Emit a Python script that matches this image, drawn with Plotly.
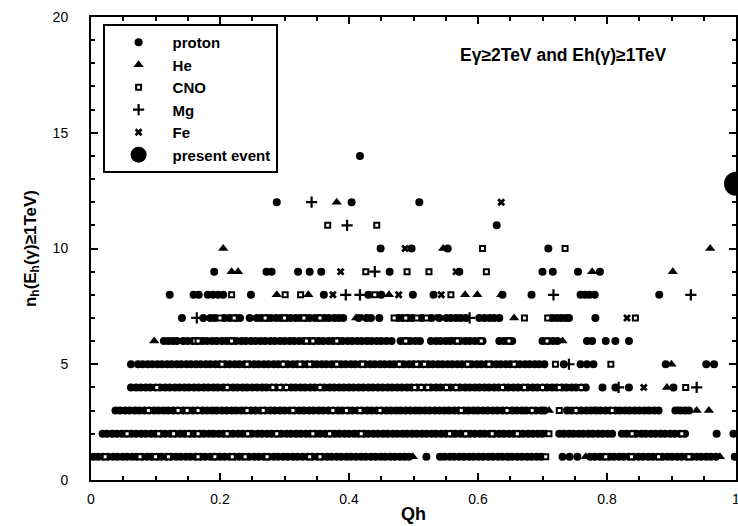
import plotly.graph_objects as go

# ---- data: Qh values per multiplicity row (n_h) for each primary ----
P1 = [0.004, 0.011, 0.019, 0.026, 0.034, 0.041, 0.049, 0.056, 0.064, 0.071, 0.079, 0.087, 0.094, 0.102, 0.109,
      0.117, 0.124, 0.132, 0.139, 0.147, 0.154, 0.162, 0.170, 0.177, 0.185, 0.192, 0.200, 0.207, 0.215, 0.222,
      0.230, 0.237, 0.245, 0.253, 0.260, 0.268, 0.275, 0.283, 0.290, 0.298, 0.305, 0.313, 0.320, 0.328, 0.336,
      0.343, 0.351, 0.358, 0.366, 0.373, 0.381, 0.388, 0.396, 0.403, 0.411, 0.419, 0.426, 0.434, 0.441, 0.449,
      0.456, 0.464, 0.471, 0.479, 0.486, 0.493, 0.520, 0.541, 0.548, 0.556, 0.563, 0.571, 0.578, 0.586, 0.593,
      0.601, 0.608, 0.616, 0.623, 0.631, 0.638, 0.646, 0.653, 0.661, 0.668, 0.676, 0.683, 0.691, 0.698, 0.731,
      0.742, 0.754, 0.774, 0.781, 0.789, 0.796, 0.804, 0.811, 0.819, 0.826, 0.834, 0.841, 0.849, 0.856, 0.864,
      0.871, 0.879, 0.886, 0.894, 0.901, 0.909, 0.916, 0.924, 0.931, 0.939, 0.946, 0.954, 0.961, 0.969, 0.998]
P2 = [0.018, 0.025, 0.033, 0.040, 0.048, 0.055, 0.063, 0.070, 0.078, 0.085, 0.093, 0.100, 0.108, 0.115, 0.123,
      0.130, 0.138, 0.145, 0.153, 0.160, 0.168, 0.175, 0.183, 0.190, 0.198, 0.205, 0.213, 0.220, 0.228, 0.235,
      0.243, 0.250, 0.258, 0.265, 0.273, 0.280, 0.288, 0.295, 0.303, 0.310, 0.318, 0.325, 0.333, 0.340, 0.348,
      0.355, 0.363, 0.370, 0.378, 0.385, 0.393, 0.400, 0.408, 0.415, 0.423, 0.430, 0.438, 0.445, 0.453, 0.460,
      0.468, 0.475, 0.483, 0.490, 0.498, 0.505, 0.513, 0.520, 0.528, 0.535, 0.543, 0.550, 0.558, 0.565, 0.573,
      0.580, 0.588, 0.595, 0.603, 0.610, 0.618, 0.625, 0.633, 0.640, 0.648, 0.655, 0.663, 0.670, 0.678, 0.685,
      0.693, 0.700, 0.726, 0.733, 0.741, 0.748, 0.756, 0.763, 0.771, 0.778, 0.786, 0.793, 0.801, 0.808, 0.823,
      0.830, 0.838, 0.845, 0.853, 0.860, 0.868, 0.875, 0.883, 0.890, 0.898, 0.905, 0.913, 0.921, 0.970, 0.996]
P3 = [0.038, 0.045, 0.053, 0.060, 0.068, 0.075, 0.083, 0.090, 0.098, 0.105, 0.113, 0.120, 0.128, 0.135, 0.143,
      0.150, 0.158, 0.165, 0.173, 0.180, 0.188, 0.195, 0.203, 0.210, 0.218, 0.225, 0.233, 0.240, 0.248, 0.255,
      0.263, 0.270, 0.278, 0.285, 0.293, 0.300, 0.308, 0.315, 0.323, 0.330, 0.338, 0.345, 0.353, 0.360, 0.368,
      0.375, 0.383, 0.390, 0.398, 0.405, 0.413, 0.420, 0.428, 0.435, 0.443, 0.450, 0.458, 0.465, 0.473, 0.480,
      0.488, 0.495, 0.503, 0.510, 0.518, 0.525, 0.533, 0.540, 0.548, 0.555, 0.563, 0.570, 0.578, 0.585, 0.593,
      0.600, 0.608, 0.615, 0.623, 0.630, 0.638, 0.645, 0.653, 0.660, 0.668, 0.675, 0.683, 0.690, 0.698, 0.703,
      0.738, 0.745, 0.753, 0.760, 0.768, 0.775, 0.783, 0.790, 0.798, 0.805, 0.813, 0.820, 0.828, 0.835, 0.843,
      0.850, 0.858, 0.865, 0.873, 0.880, 0.906, 0.914, 0.921, 0.927]
P4 = [0.062, 0.070, 0.077, 0.085, 0.092, 0.100, 0.107, 0.115, 0.122, 0.130, 0.137, 0.145, 0.152, 0.160, 0.167,
      0.175, 0.182, 0.190, 0.197, 0.205, 0.212, 0.220, 0.227, 0.235, 0.242, 0.250, 0.257, 0.265, 0.272, 0.280,
      0.287, 0.295, 0.302, 0.310, 0.317, 0.325, 0.332, 0.340, 0.347, 0.355, 0.362, 0.370, 0.377, 0.385, 0.392,
      0.400, 0.407, 0.415, 0.422, 0.430, 0.437, 0.445, 0.452, 0.460, 0.467, 0.475, 0.482, 0.490, 0.497, 0.505,
      0.512, 0.520, 0.527, 0.535, 0.542, 0.550, 0.557, 0.565, 0.572, 0.580, 0.587, 0.595, 0.602, 0.610, 0.617,
      0.625, 0.632, 0.640, 0.647, 0.655, 0.662, 0.670, 0.677, 0.685, 0.692, 0.700, 0.707, 0.715, 0.722, 0.730,
      0.737, 0.745, 0.752, 0.760, 0.767, 0.793, 0.813, 0.834, 0.903]
P5 = [0.062, 0.073, 0.080, 0.088, 0.095, 0.103, 0.110, 0.118, 0.125, 0.133, 0.140, 0.148, 0.155, 0.163, 0.170,
      0.178, 0.185, 0.193, 0.200, 0.208, 0.215, 0.223, 0.230, 0.238, 0.245, 0.253, 0.260, 0.268, 0.275, 0.283,
      0.290, 0.298, 0.305, 0.313, 0.320, 0.328, 0.335, 0.343, 0.350, 0.358, 0.365, 0.373, 0.380, 0.388, 0.395,
      0.403, 0.410, 0.418, 0.425, 0.433, 0.440, 0.448, 0.455, 0.463, 0.470, 0.478, 0.485, 0.493, 0.500, 0.508,
      0.515, 0.523, 0.530, 0.538, 0.545, 0.553, 0.560, 0.568, 0.575, 0.583, 0.590, 0.598, 0.605, 0.613, 0.620,
      0.628, 0.635, 0.643, 0.650, 0.658, 0.665, 0.673, 0.680, 0.688, 0.695, 0.703, 0.733, 0.759, 0.769, 0.779,
      0.891, 0.954, 0.966]
P6 = [0.113, 0.120, 0.127, 0.133, 0.143, 0.150, 0.158, 0.165, 0.173, 0.180, 0.188, 0.195, 0.203, 0.210, 0.218,
      0.225, 0.233, 0.240, 0.248, 0.255, 0.263, 0.270, 0.278, 0.285, 0.293, 0.300, 0.308, 0.315, 0.323, 0.330,
      0.338, 0.345, 0.353, 0.360, 0.368, 0.375, 0.383, 0.390, 0.398, 0.405, 0.413, 0.420, 0.428, 0.435, 0.443,
      0.450, 0.458, 0.466, 0.480, 0.488, 0.495, 0.503, 0.510, 0.527, 0.535, 0.542, 0.550, 0.557, 0.565, 0.572,
      0.580, 0.587, 0.595, 0.602, 0.607, 0.633, 0.640, 0.647, 0.653, 0.700, 0.708, 0.716, 0.723, 0.769, 0.777,
      0.798, 0.813, 0.834]
P7 = [0.141, 0.174, 0.185, 0.192, 0.207, 0.215, 0.224, 0.231, 0.246, 0.257, 0.264, 0.272, 0.279, 0.287, 0.294,
      0.302, 0.309, 0.317, 0.324, 0.332, 0.339, 0.347, 0.354, 0.362, 0.369, 0.377, 0.384, 0.391, 0.415, 0.427,
      0.434, 0.447, 0.476, 0.483, 0.491, 0.498, 0.513, 0.528, 0.540, 0.551, 0.558, 0.566, 0.573, 0.581, 0.602,
      0.610, 0.618, 0.625, 0.633, 0.715, 0.722, 0.729, 0.736, 0.741, 0.782]
P8 = [0.122, 0.159, 0.167, 0.181, 0.189, 0.197, 0.205, 0.248, 0.361, 0.430, 0.450, 0.499, 0.531, 0.638, 0.683,
      0.759, 0.766, 0.773, 0.781, 0.881]
P9 = [0.191, 0.272, 0.280, 0.321, 0.339, 0.357, 0.463, 0.571, 0.700, 0.716, 0.755, 0.789]
P10 = [0.449, 0.497, 0.553, 0.709]
P11 = [0.629]
P12 = [0.288, 0.404, 0.509]
P14 = [0.417]

HE_QH = [0.381, 0.205, 0.546, 0.960, 0.218, 0.228, 0.777, 0.902, 0.288, 0.337, 0.462, 0.580, 0.599, 0.636,
         0.411, 0.420, 0.535, 0.656, 0.098, 0.560, 0.731, 0.900, 0.893, 0.710, 0.780, 0.910, 0.939, 0.958,
         0.705, 0.499, 0.767, 0.975]
HE_NH = [12, 10, 10, 10, 9, 9, 9, 9, 8, 8, 8, 8, 8, 8,
         7, 7, 7, 7, 6, 6, 6, 5, 4, 3, 3, 3, 3, 3,
         2, 1, 1, 1]

CNO_N11 = [0.367, 0.443]
CNO_N10 = [0.607, 0.735]
CNO_N9 = [0.426, 0.490, 0.524, 0.613]
CNO_N8 = [0.218, 0.301, 0.325, 0.440, 0.558]
CNO_N7 = [0.200, 0.222, 0.270, 0.300, 0.330, 0.355, 0.470, 0.488, 0.505, 0.520, 0.672, 0.708, 0.844]
CNO_N6 = [0.161, 0.166, 0.218, 0.334, 0.344, 0.381, 0.488, 0.568, 0.605, 0.648, 0.707]
CNO_N5 = [0.203, 0.242, 0.298, 0.324, 0.339, 0.381, 0.421, 0.478, 0.505, 0.517, 0.584, 0.617, 0.656, 0.720, 0.806]
CNO_N4 = [0.102, 0.211, 0.282, 0.293, 0.303, 0.355, 0.502, 0.512, 0.522, 0.551, 0.566, 0.638, 0.672, 0.700,
          0.726, 0.760, 0.922]
CNO_N3 = [0.089, 0.135, 0.149, 0.166, 0.242, 0.267, 0.313, 0.375, 0.396, 0.417, 0.448, 0.574, 0.645, 0.684,
          0.726, 0.752, 0.808]
CNO_N2 = [0.056, 0.105, 0.128, 0.151, 0.166, 0.211, 0.243, 0.288, 0.344, 0.370, 0.419, 0.556, 0.581, 0.622,
          0.661, 0.710, 0.839, 0.916]
CNO_N1 = [0.022, 0.076, 0.100, 0.120, 0.166, 0.192, 0.219, 0.239, 0.273, 0.339, 0.355, 0.705, 0.798, 0.838,
          0.880, 0.927]

MG_QH = [0.342, 0.397, 0.440, 0.395, 0.417, 0.717, 0.930, 0.164, 0.587, 0.741, 0.818, 0.939]
MG_NH = [12, 11, 9, 8, 8, 8, 8, 7, 7, 5, 4, 4]

FE_QH = [0.636, 0.487, 0.387, 0.566, 0.375, 0.477, 0.543, 0.831, 0.857]
FE_NH = [12, 10, 9, 9, 8, 8, 8, 7, 4]

EVENT_QH = [1.0]
EVENT_NH = [12.8]

X_TICKS = [0, 0.2, 0.4, 0.6, 0.8, 1.0]
X_TICKTEXT = ["0", "0.2", "0.4", "0.6", "0.8", "1"]
Y_TICKS = [0, 5, 10, 15, 20]

PROTON_ROWS = [(1, P1), (2, P2), (3, P3), (4, P4), (5, P5), (6, P6), (7, P7), (8, P8), (9, P9),
               (10, P10), (11, P11), (12, P12), (14, P14)]
CNO_ROWS = [(1, CNO_N1), (2, CNO_N2), (3, CNO_N3), (4, CNO_N4), (5, CNO_N5), (6, CNO_N6), (7, CNO_N7),
            (8, CNO_N8), (9, CNO_N9), (10, CNO_N10), (11, CNO_N11)]

p_x, p_y = [], []
for n, xs in PROTON_ROWS:
    p_x += xs
    p_y += [n] * len(xs)
c_x, c_y = [], []
for n, xs in CNO_ROWS:
    c_x += xs
    c_y += [n] * len(xs)

FONT = "Liberation Sans, Arial, Helvetica, sans-serif"

fig = go.Figure()
fig.add_trace(go.Scatter(x=p_x, y=p_y, mode="markers", name="proton",
                         marker=dict(symbol="circle", size=8, color="black", line=dict(width=0))))
fig.add_trace(go.Scatter(x=HE_QH, y=HE_NH, mode="markers", name="He",
                         marker=dict(symbol="triangle-up", size=9, color="black", line=dict(width=0))))
fig.add_trace(go.Scatter(x=c_x, y=c_y, mode="markers", name="CNO",
                         marker=dict(symbol="square", size=5, color="white",
                                     line=dict(width=2, color="black"))))
fig.add_trace(go.Scatter(x=MG_QH, y=MG_NH, mode="markers", name="Mg",
                         marker=dict(symbol="cross-thin", size=8, color="black",
                                     line=dict(width=2.2, color="black"))))
fig.add_trace(go.Scatter(x=FE_QH, y=FE_NH, mode="markers", name="Fe",
                         marker=dict(symbol="x", size=7, color="black", line=dict(width=0))))
fig.add_trace(go.Scatter(x=EVENT_QH, y=EVENT_NH, mode="markers", name="present event", cliponaxis=False,
                         marker=dict(symbol="circle", size=24, color="black", line=dict(width=0))))

axis_common = dict(showline=True, linecolor="black", linewidth=2, mirror="allticks",
                   ticks="inside", tickcolor="black", tickwidth=2, showgrid=False, zeroline=False,
                   automargin=False, ticklabeloverflow="allow",
                   tickfont=dict(family=FONT, size=14, color="black"))

fig.update_xaxes(range=[0, 1], tickvals=X_TICKS, ticktext=X_TICKTEXT, ticklen=7, ticklabelstandoff=5,
                 minor=dict(dtick=0.05, ticks="inside", ticklen=4, tickcolor="black", tickwidth=1.5),
                 title=dict(text="Qh", font=dict(family=FONT, size=18, color="black", weight="bold"),
                            standoff=2),
                 **axis_common)
fig.update_yaxes(range=[0, 20], tickvals=Y_TICKS, ticklen=7, ticklabelstandoff=18,
                 minor=dict(dtick=1, ticks="inside", ticklen=4, tickcolor="black", tickwidth=1.5),
                 title=dict(text="n<sub>h</sub>(E<sub>h</sub>(γ)≥1TeV)",
                            font=dict(family=FONT, size=17, color="black", weight="bold"), standoff=12),
                 **axis_common)

fig.add_annotation(text="Eγ≥2TeV and Eh(γ)≥1TeV", xref="paper", yref="paper", x=0.732, y=0.918,
                   xanchor="center", yanchor="middle",
                   showarrow=False, font=dict(family=FONT, size=17.5, color="black", weight="bold"))

fig.update_layout(
    width=738, height=526,
    margin=dict(l=91, r=2, t=17, b=46),
    paper_bgcolor="white", plot_bgcolor="white",
    showlegend=True,
    legend=dict(x=0.018, y=0.985, xanchor="left", yanchor="top", bgcolor="white",
                bordercolor="black", borderwidth=2, itemwidth=58,
                font=dict(family=FONT, size=15, color="black", weight="bold")),
)

fig.write_html("out.html", config={"displayModeBar": False},
               post_script="document.body.style.margin='0px';")
